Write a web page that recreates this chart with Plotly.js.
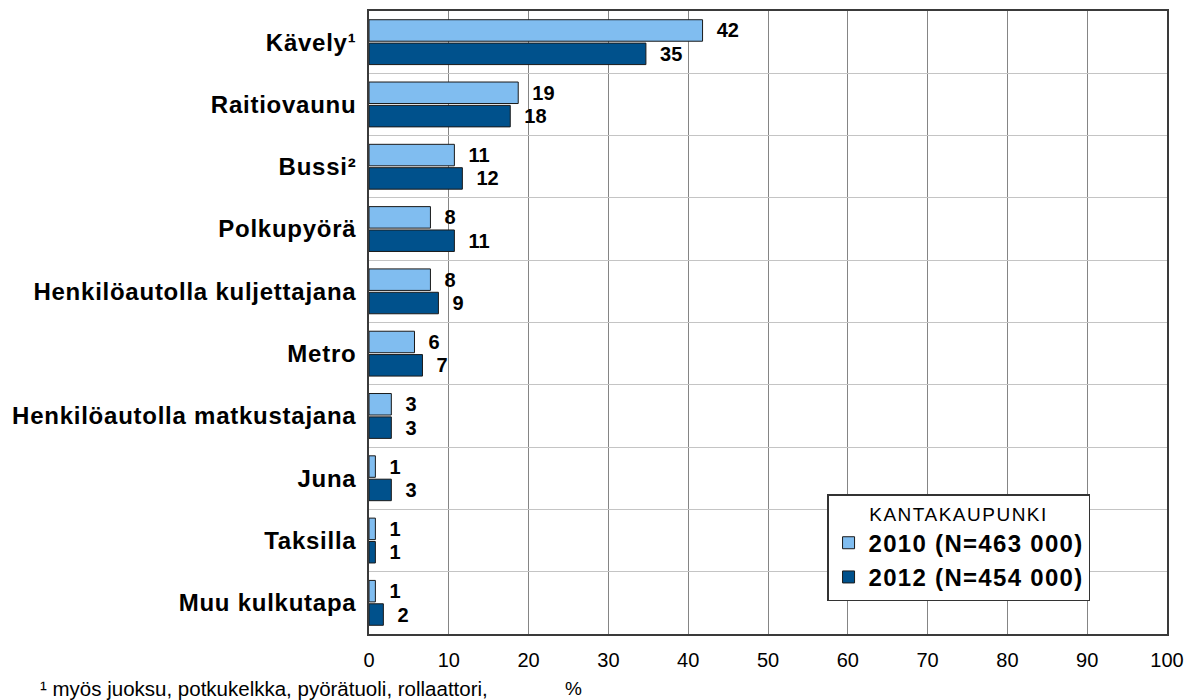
<!DOCTYPE html>
<html>
<head>
<meta charset="utf-8">
<script src="https://cdn.plot.ly/plotly-3.0.1.min.js"></script>
<style>
  html, body { margin: 0; padding: 0; background: #fff; }
  #chart { width: 1191px; height: 700px; }
  .ytick text { letter-spacing: 0.75px; }
  .legendtext { letter-spacing: 1.3px; }
  .legendtitletext { letter-spacing: 1.5px; }
</style>
</head>
<body>
<div id="chart"></div>
<script>
const categories = ['Kävely¹', 'Raitiovaunu', 'Bussi²', 'Polkupyörä', 'Henkilöautolla kuljettajana', 'Metro', 'Henkilöautolla matkustajana', 'Juna', 'Taksilla', 'Muu kulkutapa'];
const values2010 = [41.8, 18.7, 10.7, 7.7, 7.7, 5.7, 2.8, 0.8, 0.8, 0.8];
const values2012 = [34.7, 17.7, 11.7, 10.7, 8.7, 6.7, 2.8, 2.8, 0.8, 1.8];
const seriesNames = ['2010 (N=463 000)', '2012 (N=454 000)'];
const xTicks = [0, 10, 20, 30, 40, 50, 60, 70, 80, 90, 100];
const legendTitle = 'KANTAKAUPUNKI';
const footnote = '¹ myös juoksu, potkukelkka, pyörätuoli, rollaattori,';
const xUnit = '%';

const FONT = 'Liberation Sans, Arial, sans-serif';
const colors = ['#80BDF0', '#00518C'];

function barTrace(vals, name, color) {
  return {
    type: 'bar',
    orientation: 'h',
    y: categories,
    x: vals,
    name: name,
    marker: { color: color, line: { color: '#1a1a1a', width: 1 } },
    texttemplate: '\u00a0\u00a0%{x:.0f}',
    textposition: 'outside',
    constraintext: 'none',
    cliponaxis: false,
    textfont: { family: FONT, size: 20, color: '#000', weight: 'bold' },
    hoverinfo: 'x+y'
  };
}

const data = [
  barTrace(values2010, seriesNames[0], colors[0]),
  barTrace(values2012, seriesNames[1], colors[1])
];

const layout = {
  width: 1191,
  height: 700,
  margin: { l: 369, r: 24, t: 11, b: 66 },
  paper_bgcolor: '#fff',
  plot_bgcolor: '#fff',
  barmode: 'group',
  bargap: 0.25,
  bargroupgap: 0.08,
  font: { family: FONT, color: '#000' },
  xaxis: {
    range: [0, 100],
    tickvals: xTicks,
    ticktext: xTicks.map(String),
    showgrid: true,
    gridcolor: '#858585',
    gridwidth: 1,
    zeroline: false,
    showline: true,
    mirror: true,
    linecolor: '#3a3a3a',
    linewidth: 1.5,
    ticks: '',
    ticklabelstandoff: 7,
    tickfont: { family: FONT, size: 20, color: '#000' },
    automargin: false,
    fixedrange: true
  },
  yaxis: {
    type: 'category',
    autorange: 'reversed',
    tickson: 'boundaries',
    showgrid: true,
    gridcolor: '#c4c4c4',
    gridwidth: 1,
    showline: true,
    mirror: true,
    linecolor: '#3a3a3a',
    linewidth: 1.5,
    ticks: '',
    ticklabelstandoff: 6,
    tickfont: { family: FONT, size: 24, color: '#000', weight: 'bold' },
    automargin: false,
    fixedrange: true
  },
  showlegend: true,
  legend: {
    x: 0.574,
    y: 0.224,
    xanchor: 'left',
    yanchor: 'top',
    bgcolor: '#fff',
    bordercolor: '#333',
    borderwidth: 1.5,
    font: { family: FONT, size: 24, color: '#000', weight: 'bold' },
    title: { text: legendTitle, side: 'top center', font: { family: FONT, size: 19, color: '#000', weight: 'normal' } },
    traceorder: 'normal',
    itemclick: false,
    itemdoubleclick: false
  },
  annotations: [
    {
      text: footnote, xref: 'paper', yref: 'paper',
      x: (38 - 369) / 798, y: -0.087, xanchor: 'left', yanchor: 'middle',
      showarrow: false, font: { family: FONT, size: 20.5, color: '#000' }
    },
    {
      text: xUnit, xref: 'paper', yref: 'paper',
      x: (573 - 369) / 798, y: -0.087, xanchor: 'center', yanchor: 'middle',
      showarrow: false, font: { family: FONT, size: 19, color: '#000' }
    }
  ]
};

Plotly.newPlot('chart', data, layout, { displayModeBar: false, staticPlot: false });
</script>
</body>
</html>
